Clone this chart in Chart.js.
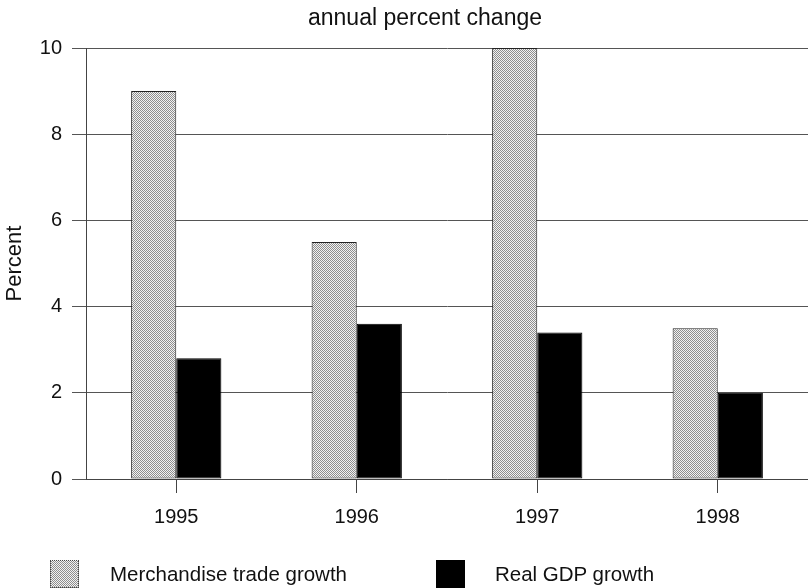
<!DOCTYPE html>
<html>
<head>
<meta charset="utf-8">
<script src="https://cdn.jsdelivr.net/npm/chart.js@4.4.1/dist/chart.umd.min.js"></script>
<style>
  html, body { margin: 0; padding: 0; background: #fff; }
  #wrap { position: relative; width: 808px; height: 588px; font-family: "Liberation Sans", Arial, sans-serif; }
  #legend .item { position: absolute; top: 560px; height: 28px; }
  #legend .box { position: absolute; left: 0; top: 0; width: 29px; height: 28px; box-sizing: border-box; }
  #legend .txt { position: absolute; top: 2px; white-space: nowrap; font-size: 20.5px; color: #111; }
</style>
</head>
<body>
<div id="wrap">
  <canvas id="chart" width="808" height="588"></canvas>
  <div id="legend"></div>
</div>
<script>
// Datos
const years = ['1995', '1996', '1997', '1998'];
const tradeGrowth = [9, 5.5, 10, 3.5];
const gdpGrowth = [2.8, 3.6, 3.4, 2.0];
const yTicks = [0, 2, 4, 6, 8, 10];
const chartTitle = 'annual percent change';

// Trama punteada gris para las barras de comercio
function makeStipple() {
  const c = document.createElement('canvas');
  c.width = 2; c.height = 2;
  const g = c.getContext('2d');
  g.fillStyle = '#f2f2f2';
  g.fillRect(0, 0, 2, 2);
  g.fillStyle = '#8e8e8e';
  g.fillRect(0, 0, 1, 1);
  g.fillRect(1, 1, 1, 1);
  return c;
}
const stippleCanvas = makeStipple();
const ctx = document.getElementById('chart').getContext('2d');
const stipple = ctx.createPattern(stippleCanvas, 'repeat');

const family = '"Liberation Sans", Arial, sans-serif';
const tickFont = { family: family, size: 20 };

// Título desplazado un poco a la derecha del centro del lienzo
const topTitle = {
  id: 'topTitle',
  afterDraw(chart) {
    const c = chart.ctx;
    c.save();
    c.font = '23px ' + family;
    c.fillStyle = '#111';
    c.textAlign = 'center';
    c.textBaseline = 'middle';
    c.fillText(chartTitle, 425, 19);
    c.restore();
  },
};

const chart = new Chart(ctx, {
  type: 'bar',
  data: {
    labels: years,
    datasets: [
      {
        label: 'Merchandise trade growth',
        data: tradeGrowth,
        backgroundColor: stipple,
        borderColor: '#222',
        borderWidth: 1,
        borderSkipped: false,
      },
      {
        label: 'Real GDP growth',
        data: gdpGrowth,
        backgroundColor: '#000',
        borderColor: '#000',
        borderWidth: 1,
        borderSkipped: false,
      },
    ],
  },
  options: {
    responsive: false,
    animation: false,
    layout: { padding: { left: 0, right: 0, top: 48, bottom: 59 } },
    datasets: { bar: { barPercentage: 1, categoryPercentage: 0.5 } },
    plugins: {
      legend: { display: false },
      tooltip: { enabled: false },
      title: { display: false },
    },
    scales: {
      x: {
        grid: { offset: false, drawOnChartArea: false, tickLength: 14, color: '#444' },
        border: { color: '#444' },
        ticks: { color: '#111', font: tickFont, padding: 12 },
        afterFit: (s) => { s.height = 50; },
      },
      y: {
        min: 0,
        max: 10,
        afterBuildTicks: (s) => { s.ticks = yTicks.map(v => ({ value: v })); },
        grid: { color: '#555', tickLength: 14 },
        border: { color: '#444' },
        ticks: { color: '#111', font: tickFont, padding: 10 },
        title: { display: true, text: 'Percent', color: '#111', font: { family: family, size: 22 }, padding: { top: 2, bottom: 0 } },
        afterFit: (s) => { s.width = 86; },
      },
    },
  },
  plugins: [topTitle],
});

// Leyenda inferior
const legend = document.getElementById('legend');
const legendPos = [{ box: 50, text: 110 }, { box: 436, text: 495 }];
chart.data.datasets.forEach((ds, i) => {
  const item = document.createElement('div');
  item.className = 'item';
  item.style.left = legendPos[i].box + 'px';
  const box = document.createElement('div');
  box.className = 'box';
  if (i === 0) {
    box.style.backgroundImage = 'url(' + stippleCanvas.toDataURL() + ')';
    box.style.border = '1px dotted #444';
  } else {
    box.style.background = '#000';
  }
  const txt = document.createElement('div');
  txt.className = 'txt';
  txt.style.left = (legendPos[i].text - legendPos[i].box) + 'px';
  txt.textContent = ds.label;
  item.appendChild(box);
  item.appendChild(txt);
  legend.appendChild(item);
});
</script>
</body>
</html>
